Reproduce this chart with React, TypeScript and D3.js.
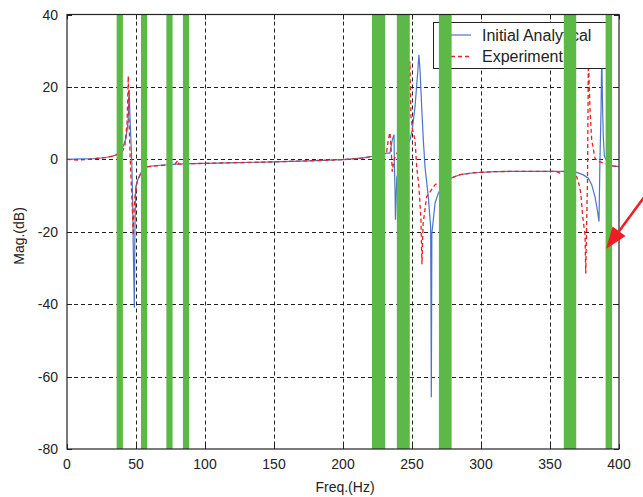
import { useEffect, useRef } from "react";
import * as d3 from "d3";

// [freq Hz, magnitude dB]
const analytical: [number, number][] = [
  [0, 0], [10, 0.1], [20, 0.2], [28, 0.5], [33, 0.9], [36, 1.3], [40.6, 3.5], [42.8, 5.9],
  [44.2, 10], [45.1, 19.2], [45.6, 11.8], [46.9, -0.1], [47.6, -12], [48.0, -24], [48.8, -41],
  [49.2, -20], [49.8, -7.5], [51.7, -5.2], [53.4, -3.8], [58, -2.0], [65, -1.7], [80, -1.3],
  [90, -1.2], [100, -1.1], [125, -0.9], [150, -0.7], [175, -0.4], [200, -0.1], [215, 0.4],
  [221, 0.8], [226, 1.2], [231.7, 1.7], [234, 1.7], [235.7, 5.4], [237, 6.8], [237.2, -1],
  [237.7, -8.4], [238, -16.7], [239, -5], [244, 2], [248.6, 5.4], [250.2, 8.2], [252.2, 14.6],
  [254.1, 23.8], [255, 28.9], [255.8, 24.7], [257, 14.6], [258.2, 5.4], [259.4, -2],
  [261.8, -10.3], [263.5, -18.6], [263.8, -43.6], [264, -65.7], [264.2, -44], [264.4, -20.4],
  [266.7, -12.1], [269.1, -9.3], [273, -7], [279, -5.1], [285, -4.2], [295, -3.7], [310, -3.4],
  [330, -3.3], [360, -3.3], [369.3, -3.6], [374.2, -4.3], [377.8, -5.2], [380.2, -7],
  [382.6, -10.3], [384.3, -14], [385.5, -17.2], [386.2, -0.1], [387, 13.7], [387.5, 30],
  [388, 16.5], [388.6, 6.3], [389.4, 0.8], [392, -1], [395.2, -1.8], [400, -2],
];

const experiment: [number, number][] = [
  [0, 0], [8, -0.2], [15, 0], [22, 0.3], [28, 0.5], [33, 0.9], [36, 1.3], [40.6, 2.5], [42, 4],
  [43.5, 10], [44.4, 23], [45, 10], [45.8, 0], [46.7, -8], [47.5, -15], [48.0, -21], [48.6, -14],
  [49.3, -10], [51, -6], [53.4, -4], [58, -2.1], [65, -1.8], [78, -1.4], [80.4, -0.3], [81, -1.3],
  [90, -1.2], [100, -1.1], [125, -0.9], [150, -0.7], [175, -0.4], [200, -0.1], [215, 0.4],
  [221, 0.8], [226, 1.3], [231.7, 2.2], [232.8, 5.4], [234, 7.4], [234.8, 3.5], [235.7, -3.4],
  [237, 0], [242, 4], [246, 12], [248.5, 27], [249.2, 12], [250.5, 8], [252.2, 5.4], [253.4, -2],
  [255, -7.5], [256.5, -16.7], [257.2, -29], [258, -18], [260.6, -10.3], [266.7, -7], [272, -6],
  [279, -5.1], [285, -4.2], [295, -3.7], [310, -3.4], [330, -3.3], [354, -3.3], [357, -3.8],
  [359, -3.3], [365, -3.8], [369.3, -4.8], [370.5, -6.1], [372.3, -9.3], [373.7, -15.8],
  [375.4, -20.9], [375.9, -31.5], [377.2, -5], [377.8, 28], [379, 13.7], [380.2, 5.4],
  [382.6, 0.3], [385, -0.6], [388.6, -1], [392, -1.4], [395.2, -1.8], [400, -2],
];

// green frequency bands [from, to] Hz
const bands: [number, number][] = [
  [36, 40.5], [53.6, 58], [72, 76.5], [84, 88.4], [221, 230.6],
  [239, 248.4], [269.5, 278.7], [360, 369], [390.3, 395],
];

const xTicks = [0, 50, 100, 150, 200, 250, 300, 350, 400];
const yTicks = [40, 20, 0, -20, -40, -60, -80];
const legendLabels = ["Initial Analytical", "Experiment"];

const W = 643;
const H = 497;
const font = "'Liberation Sans', Arial, sans-serif";

const App = () => {
  const svgRef = useRef<SVGSVGElement>(null);

  useEffect(() => {
    document.body.style.margin = "0";
    const svg = d3.select(svgRef.current);
    svg.selectAll("*").remove();

    const left = 67, right = 619, top = 14.5, bottom = 449;
    const x = d3.scaleLinear().domain([0, 400]).range([left, right]);
    const y = d3.scaleLinear().domain([-80, 40]).range([bottom, top]);

    svg.append("rect").attr("width", W).attr("height", H).attr("fill", "white");

    svg.append("defs").append("clipPath").attr("id", "plot")
      .append("rect").attr("x", left).attr("y", top)
      .attr("width", right - left).attr("height", bottom - top);

    // grid
    const grid = svg.append("g").attr("stroke", "#222").attr("stroke-width", 1)
      .attr("stroke-dasharray", "4,3");
    xTicks.slice(1, -1).forEach((t) => {
      grid.append("line").attr("x1", Math.round(x(t)) + 0.5).attr("x2", Math.round(x(t)) + 0.5)
        .attr("y1", top).attr("y2", bottom);
    });
    yTicks.slice(1, -1).forEach((t) => {
      grid.append("line").attr("y1", Math.round(y(t)) + 0.5).attr("y2", Math.round(y(t)) + 0.5)
        .attr("x1", left).attr("x2", right);
    });

    // ticks on all four sides
    const ticks = svg.append("g").attr("stroke", "#222").attr("stroke-width", 1);
    xTicks.forEach((t) => {
      const px = Math.round(x(t)) + 0.5;
      ticks.append("line").attr("x1", px).attr("x2", px).attr("y1", bottom).attr("y2", bottom - 5);
      ticks.append("line").attr("x1", px).attr("x2", px).attr("y1", top).attr("y2", top + 5);
    });
    yTicks.forEach((t) => {
      const py = Math.round(y(t)) + 0.5;
      ticks.append("line").attr("y1", py).attr("y2", py).attr("x1", left).attr("x2", left + 5);
      ticks.append("line").attr("y1", py).attr("y2", py).attr("x1", right).attr("x2", right - 5);
    });

    const line = d3.line<[number, number]>().x((d) => x(d[0])).y((d) => y(d[1]));
    const curves = svg.append("g").attr("clip-path", "url(#plot)").attr("fill", "none");
    curves.append("path").datum(analytical).attr("d", line)
      .attr("stroke", "#4a74c8").attr("stroke-width", 1.2);
    curves.append("path").datum(experiment).attr("d", line)
      .attr("stroke", "#f21c1c").attr("stroke-width", 1.3).attr("stroke-dasharray", "4,3");

    // legend
    const lg = svg.append("g");
    lg.append("rect").attr("x", 433.5).attr("y", 22.5).attr("width", 176).attr("height", 46)
      .attr("fill", "white").attr("stroke", "#222").attr("stroke-width", 1);
    lg.append("line").attr("x1", 451).attr("x2", 471).attr("y1", 35).attr("y2", 35)
      .attr("stroke", "#4a74c8").attr("stroke-width", 1.2);
    lg.append("line").attr("x1", 451).attr("x2", 471).attr("y1", 56.5).attr("y2", 56.5)
      .attr("stroke", "#f21c1c").attr("stroke-width", 1.3).attr("stroke-dasharray", "4,3");
    legendLabels.forEach((l, i) => {
      lg.append("text").attr("x", 482).attr("y", 40.5 + i * 21).text(l)
        .attr("font-family", font).attr("font-size", 16).attr("fill", "#222");
    });

    // bands
    svg.append("g").selectAll("rect").data(bands).join("rect")
      .attr("x", (d) => x(d[0])).attr("width", (d) => x(d[1]) - x(d[0]))
      .attr("y", top).attr("height", bottom - top)
      .attr("fill", "#5cb947");

    // frame
    svg.append("rect").attr("x", left).attr("y", top).attr("width", right - left)
      .attr("height", bottom - top).attr("fill", "none").attr("stroke", "#222").attr("stroke-width", 1.2);

    // tick labels
    svg.append("g").selectAll("text").data(xTicks).join("text")
      .attr("x", (d) => x(d)).attr("y", 469).attr("text-anchor", "middle")
      .attr("font-family", font).attr("font-size", 14).attr("fill", "#222").text((d) => d);
    svg.append("g").selectAll("text").data(yTicks).join("text")
      .attr("x", 58).attr("y", (d) => y(d) + 5).attr("text-anchor", "end")
      .attr("font-family", font).attr("font-size", 14).attr("fill", "#222").text((d) => d);

    svg.append("text").attr("x", 345).attr("y", 492).attr("text-anchor", "middle")
      .attr("font-family", font).attr("font-size", 14).attr("fill", "#222").text("Freq.(Hz)");
    svg.append("text").attr("transform", "translate(24,236) rotate(-90)").attr("text-anchor", "middle")
      .attr("font-family", font).attr("font-size", 14).attr("fill", "#222").text("Mag.(dB)");

    // red arrow
    const tip: [number, number] = [606, 249];
    const start: [number, number] = [645, 196];
    const dx = tip[0] - start[0], dy = tip[1] - start[1];
    const len = Math.hypot(dx, dy);
    const ux = dx / len, uy = dy / len;
    const bx = tip[0] - ux * 22, by = tip[1] - uy * 22;
    svg.append("line").attr("x1", start[0]).attr("y1", start[1]).attr("x2", bx).attr("y2", by)
      .attr("stroke", "#ee1d23").attr("stroke-width", 2.5);
    svg.append("path")
      .attr("d", `M${tip[0]},${tip[1]}L${bx - uy * 8},${by + ux * 8}L${bx + uy * 8},${by - ux * 8}Z`)
      .attr("fill", "#ee1d23");
  }, []);

  return <svg ref={svgRef} width={W} height={H} style={{ display: "block" }} />;
};

export default App;
